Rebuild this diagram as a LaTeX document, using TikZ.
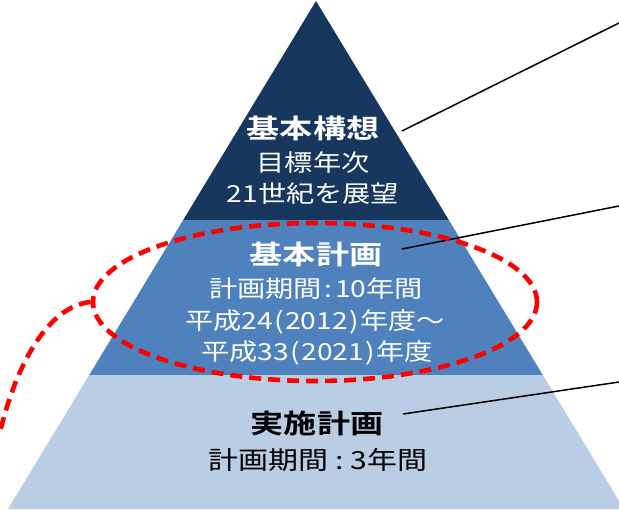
\documentclass[tikz,border=0pt]{standalone}
\usepackage{fontspec}
\usetikzlibrary{shapes.geometric}
\newfontfamily\jp[FakeStretch=1.2]{Noto Sans CJK JP}
\newfontfamily\jpb[FakeStretch=1.25]{Noto Sans CJK JP Bold}
\definecolor{topblue}{HTML}{17375E}
\definecolor{midblue}{HTML}{4F81BD}
\definecolor{lowblue}{HTML}{B9CDE5}
\definecolor{dashred}{HTML}{FF0000}
\newcommand{\pk}{\kern0.06em}
\newcommand{\ck}{\kern0.12em}
\newcommand{\bk}{\kern0.28em}
\tikzset{
  head/.style={inner sep=0pt, font=\jpb\fontsize{26.5}{26.5}\selectfont},
  body/.style={inner sep=0pt, font=\jp\fontsize{23.5}{23.5}\selectfont},
  bodylow/.style={inner sep=0pt, font=\jp\fontsize{25}{25}\selectfont},
  leader/.style={draw=black, line width=1.5pt},
  ring/.style={draw=dashred, line width=4.6pt, dash pattern=on 12pt off 7pt},
}
\begin{document}
\begin{tikzpicture}[x=1pt,y=-1pt]
\useasboundingbox (0,0) rectangle (619,511);
\begin{scope}
\clip (0,0) rectangle (619,511);
% pyramid layers
\fill[topblue] (316,1) -- (448.8,220) -- (183.2,220) -- cycle;
\fill[midblue] (183.2,220) -- (448.8,220) -- (542.8,375) -- (89.2,375) -- cycle;
\fill[lowblue] (89.2,375) -- (542.8,375) -- (624,509) -- (8,509) -- cycle;
% texts
\node[head, text=white] (t1a) at (313,128.5) {基本構想};
\node[body, text=white] (t1b) at (313,162.5) {目標年次};
\node[body, text=white] (t1c) at (313,194) {21世紀を展望};
\node[head, text=white] (t2a) at (316,254) {基本計画};
\node[body, text=white] (t2b) at (316,289) {計画期間\ck:\ck 10年間};
\node[body, text=white] (t2c) at (315,321.5) {平成24\pk(\pk 2012\pk)\pk 年度～};
\node[body, text=white] (t2d) at (317,352.5) {平成33\pk(\pk 2021\pk)\pk 年度};
\node[head, text=black] (t3a) at (317,423.5) {実施計画};
\node[bodylow, text=black] (t3b) at (318,460) {計画期間\bk:\bk 3年間};
% leader lines
\coordinate (s1) at (402,131);
\coordinate (e1) at (619,23);
\coordinate (s2) at (402,249);
\coordinate (e2) at (619,206);
\coordinate (s3) at (403,414);
\coordinate (e3) at (619,382);
\draw[leader] (s1) -- (e1);
\draw[leader] (s2) -- (e2);
\draw[leader] (s3) -- (e3);
% red dashed ellipse and tail
\node[ring, ellipse, minimum width=444pt, minimum height=158pt, inner sep=0pt] (ring) at (315,302) {};
\coordinate (tailend) at (0,432);
\draw[ring] (ring.west) .. controls (55,305) and (20,350) .. (tailend);
\end{scope}
\end{tikzpicture}
\end{document}
